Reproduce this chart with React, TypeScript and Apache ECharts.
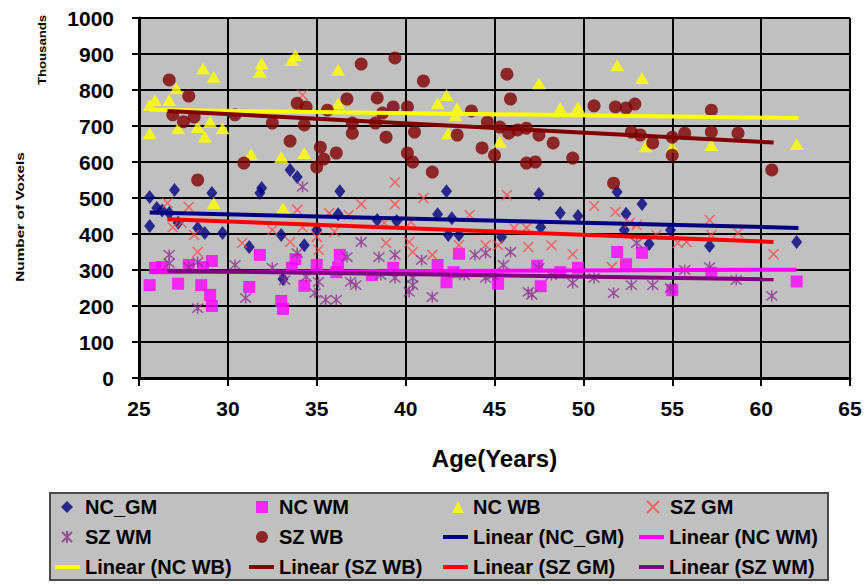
import React, { useEffect, useRef } from 'react';
import * as echarts from 'echarts';

// ---- Data (Age, Number of voxels in thousands) ----
const ncGM: number[][] = [
  [25.6, 503], [27.0, 522], [29.1, 514], [26.0, 472], [26.3, 465], [26.7, 458], [25.6, 422], [27.2, 431],
  [28.3, 417], [28.7, 403], [29.7, 403], [31.2, 364], [31.9, 528], [31.8, 514], [33.5, 578], [33.9, 558],
  [33.0, 397], [34.3, 369], [33.1, 275], [36.3, 519], [36.2, 455], [38.4, 439], [39.5, 436], [42.3, 519],
  [41.8, 455], [42.6, 444], [42.4, 397], [43.0, 397], [35.0, 411], [47.5, 511], [48.7, 458], [49.7, 450],
  [47.6, 419], [45.4, 392], [51.9, 517], [53.3, 483], [52.4, 456], [52.3, 411], [53.7, 372], [54.9, 411],
  [57.1, 367], [62.0, 378],
];
const ncWM: number[][] = [
  [25.6, 258], [25.9, 306], [26.3, 308], [27.2, 262], [27.8, 314], [28.5, 258], [28.6, 308], [29.1, 325],
  [29.0, 231], [29.1, 200], [31.8, 342], [31.2, 253], [33.0, 214], [33.1, 192], [33.8, 330], [33.6, 306],
  [34.3, 256], [35.0, 314], [36.3, 342], [36.2, 308], [36.1, 294], [38.1, 286], [39.3, 306], [41.8, 314],
  [42.3, 266], [43.0, 345], [42.7, 294], [45.2, 262], [47.4, 312], [47.6, 255], [48.7, 294], [49.7, 306],
  [51.9, 350], [52.4, 316], [53.3, 348], [55.0, 244], [57.2, 292], [62.0, 268],
];
const ncWB: number[][] = [
  [25.6, 758], [25.9, 772], [26.7, 772], [27.1, 805], [25.6, 680], [27.2, 694], [28.3, 697], [28.6, 860],
  [29.2, 837], [28.7, 670], [29.0, 712], [29.7, 694], [31.3, 622], [31.9, 874], [31.8, 851], [33.0, 614],
  [33.6, 883], [33.8, 897], [34.3, 625], [36.2, 856], [36.2, 763], [29.2, 486], [33.1, 472], [41.8, 763],
  [42.3, 786], [42.4, 680], [42.9, 750], [42.8, 730], [45.3, 656], [47.5, 819], [48.7, 750], [49.7, 752],
  [51.9, 869], [53.3, 833], [53.5, 644], [55.0, 642], [57.2, 647], [62.0, 650],
];
const szGM: number[][] = [
  [26.6, 486], [27.8, 475], [26.9, 419], [27.4, 431], [28.1, 397], [28.3, 350], [30.8, 375], [33.9, 467],
  [33.5, 378], [32.5, 411], [34.2, 419], [34.2, 786], [39.4, 544], [37.5, 483], [39.4, 483], [41.0, 500],
  [43.6, 453], [35.7, 458], [36.8, 453], [38.8, 431], [40.3, 433], [36.0, 406], [35.0, 392], [38.9, 375],
  [40.2, 378], [40.4, 350], [41.5, 342], [43.0, 369], [44.5, 369], [35.1, 356], [45.7, 508], [50.6, 478],
  [51.8, 461], [46.1, 417], [46.8, 417], [45.2, 369], [46.9, 364], [48.2, 369], [49.4, 344], [53.0, 425],
  [54.1, 397], [51.6, 308], [52.6, 431], [57.1, 439], [58.7, 403], [55.3, 375], [55.8, 378], [60.7, 344],
  [57.2, 397],
];
const szWM: number[][] = [
  [26.7, 342], [28.3, 322], [27.8, 308], [26.7, 319], [30.4, 314], [32.5, 306], [33.9, 347], [34.2, 531],
  [28.3, 194], [31.0, 222], [33.2, 272], [34.4, 281], [37.5, 378], [36.7, 336], [38.5, 336], [39.4, 342],
  [40.9, 328], [38.6, 286], [39.4, 278], [40.4, 278], [36.9, 267], [37.2, 258], [40.4, 258], [40.2, 239],
  [35.1, 267], [34.9, 236], [35.5, 217], [36.1, 217], [41.5, 225], [43.3, 286], [43.9, 342], [44.5, 347],
  [44.5, 278], [45.9, 350], [45.5, 314], [44.9, 286], [47.5, 306], [46.9, 239], [47.1, 231], [48.2, 286],
  [49.4, 264], [50.6, 278], [51.7, 236], [52.7, 258], [53.9, 258], [53.0, 375], [55.7, 300], [57.1, 308],
  [58.6, 272], [60.6, 228], [54.9, 250],
];
const szWB: number[][] = [
  [26.7, 828], [27.8, 783], [26.9, 731], [27.5, 712], [28.1, 725], [28.3, 550], [30.4, 731], [30.9, 597],
  [32.5, 708], [33.5, 658], [33.9, 763], [34.4, 753], [34.3, 703], [35.0, 586], [35.2, 641], [35.4, 608],
  [35.6, 744], [36.1, 625], [36.7, 775], [37.0, 708], [37.0, 680], [37.5, 872], [38.3, 708], [38.4, 778],
  [38.9, 669], [38.7, 736], [39.4, 889], [39.3, 753], [40.1, 753], [40.5, 683], [40.1, 625], [40.4, 600],
  [41.0, 825], [41.5, 572], [42.9, 675], [43.7, 742], [44.3, 639], [45.0, 619], [45.7, 844], [45.9, 775],
  [44.6, 711], [45.3, 697], [45.8, 680], [46.3, 689], [46.8, 694], [47.5, 675], [48.3, 653], [46.8, 597],
  [47.3, 600], [49.4, 611], [50.6, 756], [51.8, 753], [52.4, 750], [52.9, 761], [52.7, 683], [53.2, 675],
  [53.9, 653], [55.0, 669], [55.0, 619], [55.7, 680], [57.2, 744], [57.2, 683], [58.7, 680], [60.6, 578],
  [51.7, 541],
];

// Linear trend endpoints
const trendNcGM: number[][] = [[25.6, 460], [62.1, 417]];
const trendNcWM: number[][] = [[25.6, 294], [62.0, 301]];
const trendNcWB: number[][] = [[25.6, 745], [62.1, 722]];
const trendSzWB: number[][] = [[26.6, 742], [60.7, 654]];
const trendSzGM: number[][] = [[26.6, 441], [60.7, 378]];
const trendSzWM: number[][] = [[26.6, 298], [60.7, 274]];

const xTicks = { min: 25, max: 65, interval: 5 };
const yTicks = { min: 0, max: 1000, interval: 100 };

const X_PATH = 'path://M0,0L10,10M10,0L0,10';
const AST_PATH = 'path://M0,0L10,10M10,0L0,10M5,-1L5,11';

const FONT = '"Liberation Sans", Arial, sans-serif';

export default function App() {
  const ref = useRef<HTMLDivElement>(null);

  useEffect(() => {
    document.body.style.margin = '0';
    const chart = echarts.init(ref.current!, null, { renderer: 'svg' });

    const scatter = (name: string, data: number[][], symbol: string, size: any, itemStyle: any) => ({
      name, type: 'scatter', data, symbol, symbolSize: size, itemStyle, z: 2,
    });
    const trend = (name: string, data: number[][], color: string) => ({
      name, type: 'line', data, showSymbol: false, symbol: 'none', color,
      lineStyle: { color, width: 4 }, z: 3,
    });

    // legend layout
    const rows = [507, 537, 567];
    const cols = [
      { mx: 67, tx: 85 },
      { mx: 262, tx: 279 },
      { mx: 458, tx: 473 },
      { mx: 652, tx: 669 },
    ];
    const cells: [string, number, number, string, string?][] = [
      ['NC_GM', 0, 0, 'm', 'diamond'],
      ['NC WM', 1, 0, 'm', 'rect'],
      ['NC WB', 2, 0, 'm', 'triangle'],
      ['SZ GM', 3, 0, 'm', X_PATH],
      ['SZ WM', 0, 1, 'm', AST_PATH],
      ['SZ WB', 1, 1, 'm', 'circle'],
      ['Linear (NC_GM)', 2, 1, 'l'],
      ['Linear (NC WM)', 3, 1, 'l'],
      ['Linear (NC WB)', 0, 2, 'l'],
      ['Linear (SZ WB)', 1, 2, 'l'],
      ['Linear (SZ GM)', 2, 2, 'l'],
      ['Linear (SZ WM)', 3, 2, 'l'],
    ];
    const LH = 20;
    const legends = cells.map(([name, c, r, kind, icon]) => {
      const col = cols[c];
      const isM = kind === 'm';
      const w = isM ? 12 : 25;
      const h = isM ? 12 : 4;
      const left = isM ? col.mx - 6 : col.tx - 30;
      const pad = col.tx - left - w - 5;
      return {
        show: true,
        left,
        top: rows[r] - LH / 2,
        padding: 0,
        itemWidth: w,
        itemHeight: h,
        selectedMode: false,
        data: [{ name, icon: isM ? icon : 'rect' }],
        textStyle: {
          fontFamily: FONT, fontSize: 20, fontWeight: 'bold', color: '#000',
          lineHeight: LH, padding: [0, 0, 0, pad],
        },
      };
    });

    const option: any = {
      animation: false,
      backgroundColor: '#ffffff',
      grid: {
        left: 139, right: 18, top: 18, bottom: 207,
        show: true, backgroundColor: '#c0c0c0', borderColor: '#9a9a9a', borderWidth: 1,
      },
      xAxis: {
        type: 'value', ...xTicks,
        name: 'Age(Years)', nameLocation: 'middle', nameGap: 68,
        nameTextStyle: { fontFamily: FONT, fontSize: 24, fontWeight: 'bold', color: '#000' },
        axisLine: { show: true, onZero: false, lineStyle: { color: '#000', width: 3 } },
        axisTick: { show: true, length: 8, lineStyle: { color: '#000', width: 2 } },
        axisLabel: { margin: 20, fontFamily: FONT, fontSize: 21, fontWeight: 'bold', color: '#000' },
        splitLine: { show: true, lineStyle: { color: '#000', width: 2 } },
      },
      yAxis: {
        type: 'value', ...yTicks,
        axisLine: { show: true, lineStyle: { color: '#000', width: 3 } },
        axisTick: { show: true, length: 7, lineStyle: { color: '#000', width: 2 } },
        axisLabel: {
          margin: 25, fontFamily: FONT, fontSize: 21, fontWeight: 'bold', color: '#000',
          formatter: (v: number) => String(v),
        },
        splitLine: { show: true, lineStyle: { color: '#000', width: 2 } },
      },
      legend: legends,
      graphic: [
        {
          type: 'rect', z: -10, silent: true,
          shape: { x: 50, y: 493, width: 778, height: 87 },
          style: { fill: '#c0c0c0', stroke: '#4a4a4a', lineWidth: 2 },
        },
        {
          type: 'text', x: 20, y: 217, rotation: Math.PI / 2, scaleX: 1.4, silent: true,
          style: {
            text: 'Number of Voxels', fontFamily: FONT, fontSize: 11, fontWeight: 'bold',
            fill: '#000', align: 'center', verticalAlign: 'middle',
          },
        },
        {
          type: 'text', x: 42, y: 50, rotation: Math.PI / 2, scaleX: 1.2, silent: true,
          style: {
            text: 'Thousands', fontFamily: FONT, fontSize: 11, fontWeight: 'bold',
            fill: '#000', align: 'center', verticalAlign: 'middle',
          },
        },
      ],
      series: [
        scatter('NC_GM', ncGM, 'diamond', [11, 14], { color: '#000080' }),
        scatter('NC WM', ncWM, 'rect', 12, { color: '#ff00ff' }),
        scatter('NC WB', ncWB, 'triangle', [14, 12], { color: '#ffff00' }),
        scatter('SZ GM', szGM, X_PATH, 10, { color: 'rgba(0,0,0,0)', borderColor: '#ff4b4b', borderWidth: 1.5 }),
        scatter('SZ WM', szWM, AST_PATH, 11, { color: 'rgba(0,0,0,0)', borderColor: '#8e2f8e', borderWidth: 1.5 }),
        scatter('SZ WB', szWB, 'circle', 13, { color: '#800000' }),
        trend('Linear (NC_GM)', trendNcGM, '#000080'),
        trend('Linear (NC WM)', trendNcWM, '#ff00ff'),
        trend('Linear (NC WB)', trendNcWB, '#ffff00'),
        trend('Linear (SZ WB)', trendSzWB, '#800000'),
        trend('Linear (SZ GM)', trendSzGM, '#ff0000'),
        trend('Linear (SZ WM)', trendSzWM, '#800080'),
      ],
    };

    chart.setOption(option);
    return () => chart.dispose();
  }, []);

  return <div ref={ref} style={{ width: 868, height: 585 }} />;
}
